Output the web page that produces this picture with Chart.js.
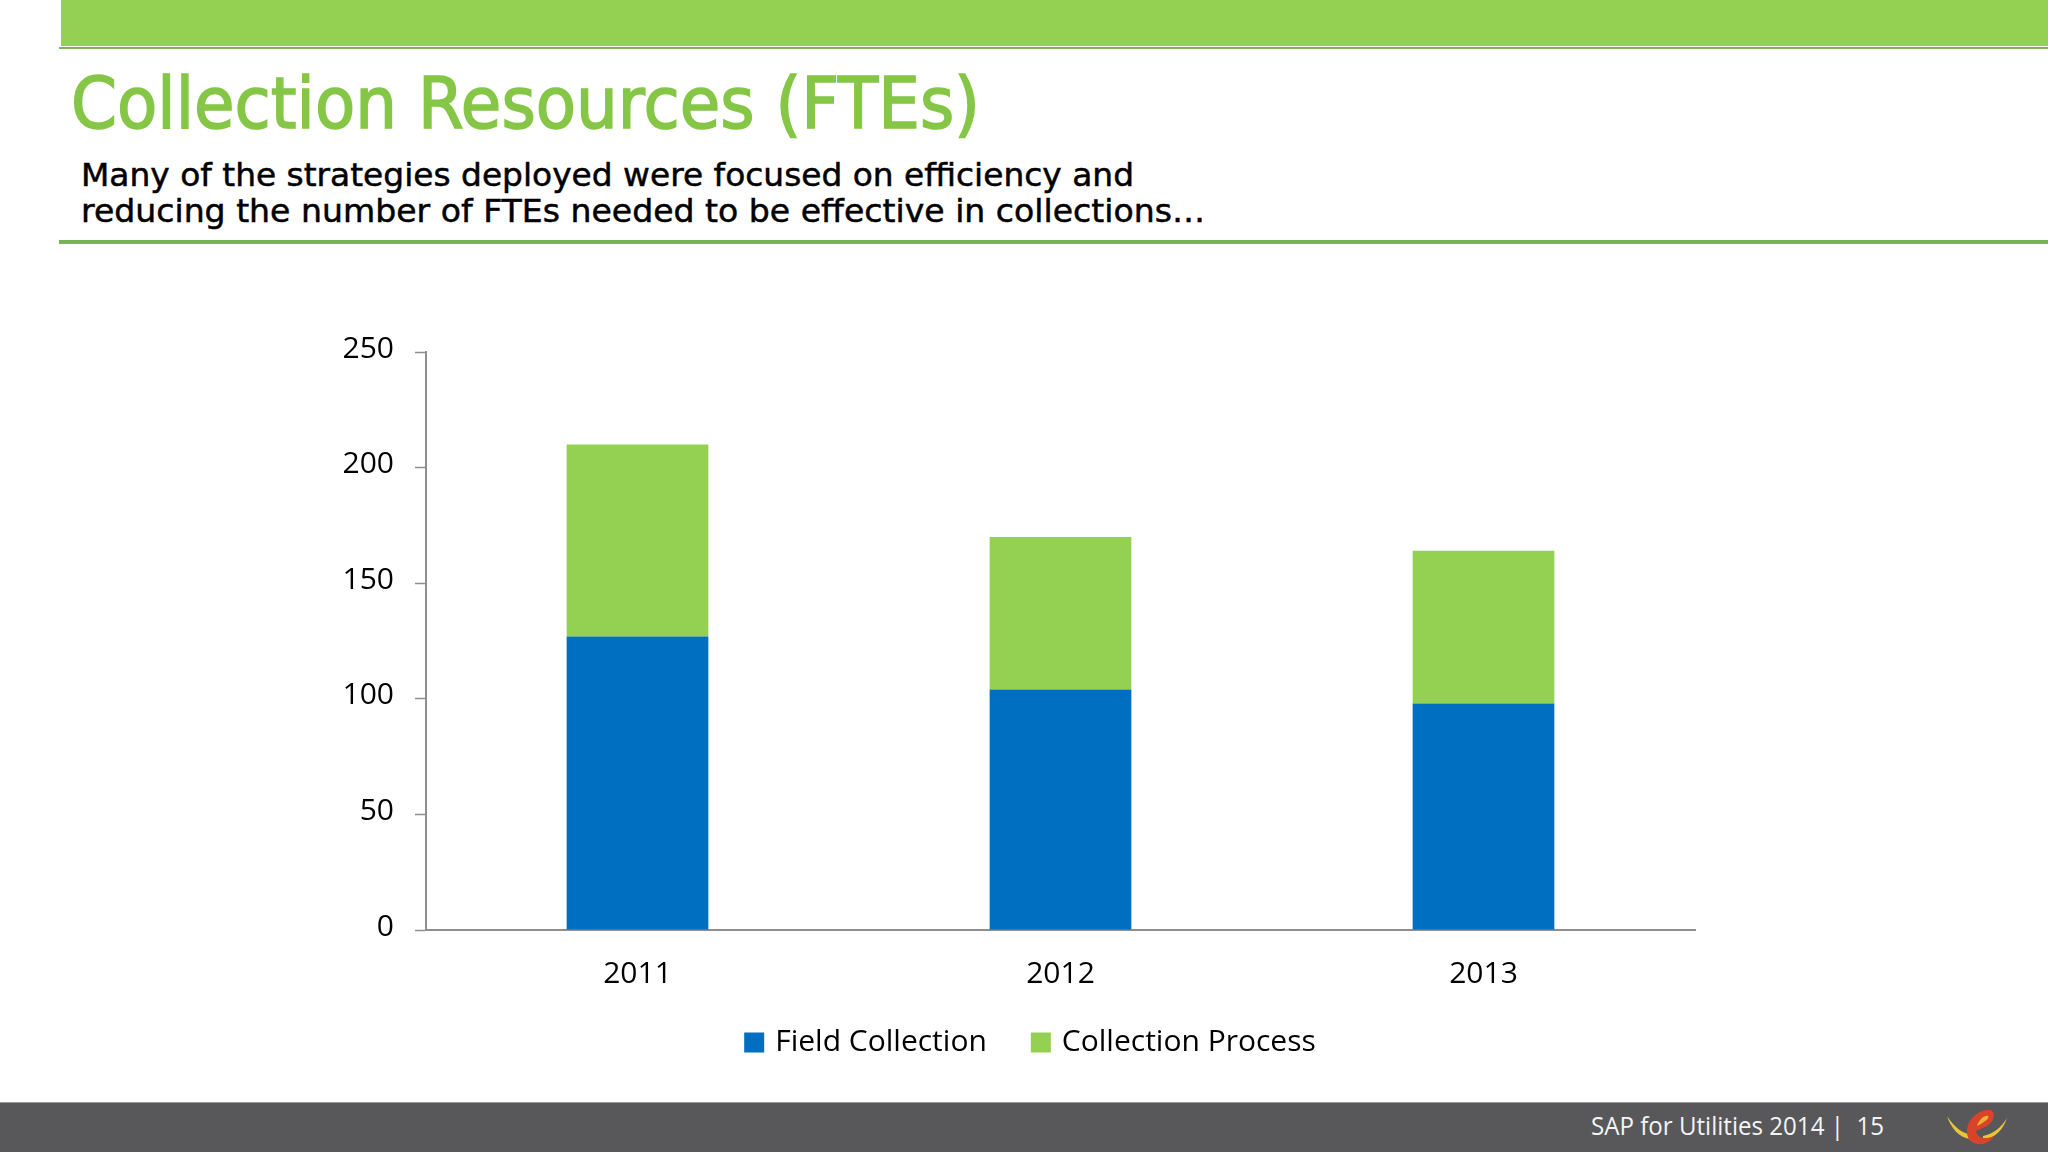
<!DOCTYPE html>
<html>
<head>
<meta charset="utf-8">
<title>Collection Resources (FTEs)</title>
<script src="https://cdn.jsdelivr.net/npm/chart.js@4"></script>
<style>
html,body{margin:0;padding:0;background:#fff;}
body{width:2048px;height:1152px;position:relative;overflow:hidden;font-family:"Open Sans",sans-serif;}
.abs{position:absolute;}
.fit{white-space:nowrap;transform-origin:left top;}
#band{left:61px;top:0;right:0;height:46px;background:#94d152;}
#rule1{left:59px;top:47px;right:0;height:2px;background:#7fb45c;}
#rule2{left:59px;top:240px;right:0;height:4px;background:#76b352;}
#title{left:71px;top:59px;font-size:72px;line-height:88px;color:#85c647;font-family:"DejaVu Sans";-webkit-text-stroke:1.6px #85c647;}
.sub{left:81px;font-size:32px;line-height:40px;color:#000;font-family:"DejaVu Sans";-webkit-text-stroke:.5px #000;}
#footer{left:0;top:1102px;right:0;height:49px;background:#58585a;border-top:1px solid #9a9a9a;}
#foot{left:1591px;top:1107px;font-size:25px;line-height:36px;color:#f4f4f4;}
#logo{left:1947px;top:1108px;}
#chartBox{left:300px;top:313px;width:1460px;height:839px;}
</style>
</head>
<body>
<div class="abs" id="band"></div>
<div class="abs" id="rule1"></div>
<div class="abs fit" id="title" data-w="909">Collection Resources (FTEs)</div>
<div class="abs fit sub" data-w="1053" style="top:155px">Many of the strategies deployed were focused on efficiency and</div>
<div class="abs fit sub" data-w="1124" style="top:191px">reducing the number of FTEs needed to be effective in collections…</div>
<div class="abs" id="rule2"></div>
<div class="abs" id="chartBox"><canvas id="chart"></canvas></div>
<div class="abs" id="footer"></div>
<div class="abs fit" id="foot" data-w="293">SAP for Utilities 2014 |&nbsp; 15</div>
<svg class="abs" id="logo" width="60" height="40" viewBox="0 0 60 40">
  <path d="M0 8 C8 20 16 26 26 27 L24 31 C12 30 4 20 0 8Z" fill="#e8c53a"/>
  <path d="M60 10 C56 22 48 30 36 32 L36 28 C46 26 54 20 60 10Z" fill="#e8c53a"/>
  <path d="M20 24 C20 9 34 1 43 2 C50 4 47 15 38 19 L29 23 C30 30 38 32 47 28 C40 40 20 39 20 24Z" fill="#d8432a"/>
  <path d="M30 18 C32 11 38 7 41 8 C43 10 38 14 30 18Z" fill="#f0b030"/>
</svg>
<script>
// values
const categories = ["2011", "2012", "2013"];
const fieldCollection = [127, 104, 98];
const collectionProcess = [83, 66, 66];
const yTicks = [0, 50, 100, 150, 200, 250];

const BLUE = "#006fc1", GREEN = "#94d152", AXIS = "#8f8f8f";

// squeeze slide text to the width it has in the picture
document.querySelectorAll(".fit").forEach(el => {
  const w = el.getBoundingClientRect().width;
  el.style.transform = "scaleX(" + (el.dataset.w / w) + ")";
});

// y labels sit a little above their tick marks
const raiseYLabels = {
  id: "raiseYLabels",
  beforeDraw(chart) {
    const items = chart.scales.y.getLabelItems(chart.chartArea);
    if (items.raised) return;
    items.forEach(it => { it.options.translation[1] -= 3; });
    items.raised = true;
  }
};

// legend is centred on the slide rather than on the plot, and closer to it
const moveLegend = {
  id: "moveLegend",
  afterLayout(chart) {
    const l = chart.legend;
    l.left += 34.5;
    l.right += 34.5;
    l.top -= 38.5;
    l.bottom -= 38.5;
  }
};

new Chart(document.getElementById("chart"), {
  type: "bar",
  plugins: [raiseYLabels, moveLegend],
  data: {
    labels: categories,
    datasets: [
      {label: "Field Collection", data: fieldCollection, backgroundColor: BLUE},
      {label: "Collection Process", data: collectionProcess, backgroundColor: GREEN}
    ]
  },
  options: {
    responsive: true,
    maintainAspectRatio: false,
    animation: false,
    layout: {padding: {top: 16.5, right: 65, bottom: 46, left: 0}},
    categoryPercentage: 1,
    barPercentage: 0.335,
    scales: {
      x: {
        stacked: true,
        grid: {display: true, drawOnChartArea: false, drawTicks: false},
        border: {color: AXIS, width: 2},
        ticks: {color: "#000", font: {family: "Open Sans", size: 30, weight: "500"}, padding: 26, maxRotation: 0}
      },
      y: {
        stacked: true,
        min: 0,
        max: 250,
        afterBuildTicks: s => { s.ticks = yTicks.map(v => ({value: v})); },
        afterFit: s => { s.width = 126; },
        grid: {drawOnChartArea: false, tickLength: 11, tickColor: AXIS, tickWidth: 1.5},
        border: {color: AXIS, width: 2},
        ticks: {color: "#000", font: {family: "Open Sans", size: 30}, padding: 21}
      }
    },
    plugins: {
      tooltip: {enabled: false},
      legend: {
        position: "bottom",
        labels: {
          usePointStyle: true,
          pointStyle: "rect",
          boxWidth: 12,
          boxHeight: 20,
          padding: 48,
          color: "#000",
          font: {family: "Open Sans", size: 30}
        }
      }
    }
  }
});
</script>
</body>
</html>
